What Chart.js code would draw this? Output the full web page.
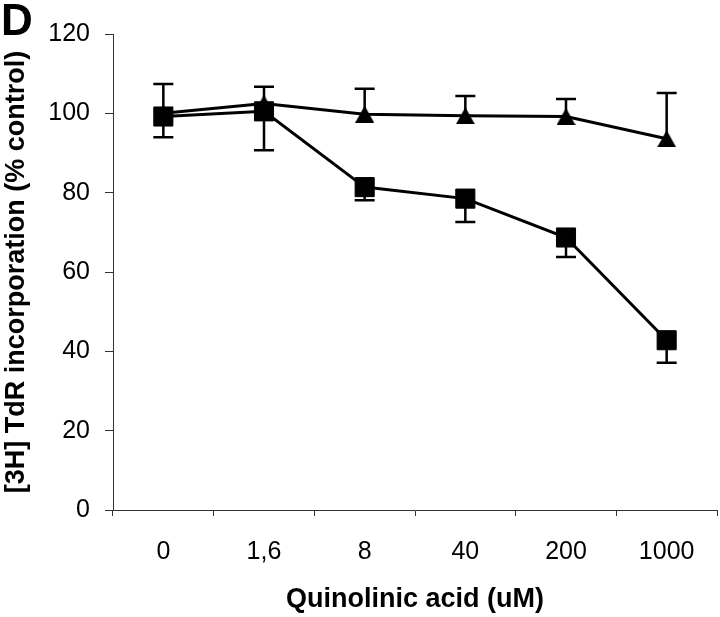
<!DOCTYPE html>
<html>
<head>
<meta charset="utf-8">
<script src="https://cdn.jsdelivr.net/npm/chart.js@4/dist/chart.umd.min.js"></script>
<style>
  html, body { margin: 0; padding: 0; background: #fff; }
  #wrap { position: relative; width: 720px; height: 617px; }
  canvas { display: block; }
</style>
</head>
<body>
<div id="wrap"><canvas id="c" width="720" height="617"></canvas></div>
<script>
// ---- data ----
const categories = ['0', '1,6', '8', '40', '200', '1000'];
const squareValues = [99.2, 100.5, 81.4, 78.5, 68.7, 42.8];
const squareErrLower = [5.2, 9.8, 3.3, 5.9, 4.9, 5.7];
const triangleValues = [100.0, 102.5, 99.8, 99.4, 99.2, 93.6];
const triangleErrUpper = [7.4, 4.2, 6.4, 5.0, 4.4, 11.5];
const yTicks = [0, 20, 40, 60, 80, 100, 120];
const panelLabel = 'D';
const xTitle = 'Quinolinic acid (uM)';
const yTitle = '[3H] TdR incorporation (% control)';

const FONT = "'Liberation Sans', Arial, Helvetica, sans-serif";

// custom triangle marker (canvas point style)
function makeTriangle(w, h) {
  const c = document.createElement('canvas');
  c.width = w; c.height = h;
  const g = c.getContext('2d');
  g.fillStyle = '#000';
  g.beginPath();
  g.moveTo(w / 2, 0);
  g.lineTo(w, h);
  g.lineTo(0, h);
  g.closePath();
  g.fill();
  return c;
}
const triImg = makeTriangle(19, 17);

// error bar plugin: uses the chart's own scales
const errorBars = {
  id: 'errorBars',
  beforeDatasetsDraw(chart) {
    const ctx = chart.ctx;
    const xs = chart.scales.x, ys = chart.scales.y;
    ctx.save();
    ctx.strokeStyle = '#000';
    ctx.lineWidth = 2.5;
    const cap = 10;
    chart.data.datasets.forEach(ds => {
      ds.data.forEach((v, i) => {
        const e = ds.errUp ? ds.errUp[i] : ds.errDown[i];
        const end = ds.errUp ? v + e : v - e;
        const px = xs.getPixelForValue(i);
        const p0 = ys.getPixelForValue(v);
        const p1 = ys.getPixelForValue(end);
        ctx.beginPath();
        ctx.moveTo(px, p0); ctx.lineTo(px, p1);
        ctx.moveTo(px - cap, p1); ctx.lineTo(px + cap, p1);
        ctx.stroke();
      });
    });
    ctx.restore();
  }
};

const panelPlugin = {
  id: 'panelLabel',
  afterDraw(chart) {
    const ctx = chart.ctx;
    ctx.save();
    ctx.fillStyle = '#000';
    ctx.font = "bold 44px " + FONT;
    ctx.textBaseline = 'alphabetic';
    ctx.textAlign = 'left';
    ctx.fillText(panelLabel, 1, 35);
    ctx.restore();
  }
};

new Chart(document.getElementById('c'), {
  type: 'line',
  data: {
    labels: categories,
    datasets: [
      {
        label: 'squares',
        data: squareValues,
        errDown: squareErrLower,
        borderColor: '#000',
        backgroundColor: '#000',
        borderWidth: 3,
        tension: 0,
        pointStyle: 'rect',
        pointRadius: 13.5,
        pointBorderWidth: 1,
        pointBackgroundColor: '#000',
        pointBorderColor: '#000'
      },
      {
        label: 'triangles',
        data: triangleValues,
        errUp: triangleErrUpper,
        borderColor: '#000',
        backgroundColor: '#000',
        borderWidth: 3,
        tension: 0,
        pointStyle: triImg,
        pointRadius: 10
      }
    ]
  },
  options: {
    responsive: false,
    devicePixelRatio: 1,
    animation: false,
    events: [],
    layout: { autoPadding: false, padding: { top: 34, right: 3, left: 0, bottom: 0 } },
    plugins: { legend: { display: false }, tooltip: { enabled: false } },
    scales: {
      x: {
        type: 'category',
        offset: true,
        grid: { offset: true, drawOnChartArea: false, drawTicks: true, tickLength: 6, color: '#333', lineWidth: 1 },
        border: { display: true, color: '#333', width: 1 },
        ticks: { color: '#000', font: { family: FONT, size: 25 }, padding: 21, maxRotation: 0 },
        title: { display: true, text: xTitle, color: '#000', font: { family: FONT, size: 27, weight: 'bold' }, padding: { top: 0, bottom: 1 } },
        afterFit(s) { s.height = 107; s.paddingLeft = 0; s.paddingRight = 0; }
      },
      y: {
        min: 0, max: 120,
        afterBuildTicks(s) { s.ticks = yTicks.map(v => ({ value: v })); },
        grid: { drawOnChartArea: false, drawTicks: true, tickLength: 8, color: '#333', lineWidth: 1 },
        border: { display: true, color: '#333', width: 1 },
        ticks: { color: '#000', font: { family: FONT, size: 25 }, padding: 15 },
        title: { display: true, text: yTitle, color: '#000', font: { family: FONT, size: 27, weight: 'bold' }, padding: { top: 0, bottom: 0 } },
        afterFit(s) { s.width = 113; s.paddingTop = 0; s.paddingBottom = 0; }
      }
    }
  },
  plugins: [errorBars, panelPlugin]
});
</script>
</body>
</html>
